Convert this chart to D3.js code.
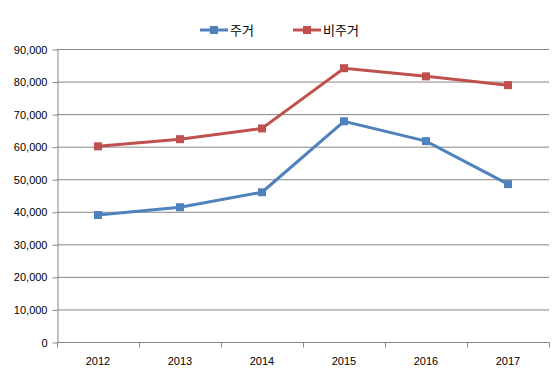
<!DOCTYPE html>
<html><head><meta charset="utf-8">
<script src="https://cdn.jsdelivr.net/npm/d3@7"></script>
<style>body{margin:0;background:#fff;} svg{display:block;font-family:"Liberation Sans","Noto Sans CJK KR",sans-serif;}</style>
</head><body>
<svg id="c" width="554" height="384"></svg>
<script>
const categories = ["2012","2013","2014","2015","2016","2017"];
const seriesNames = ["주거","비주거"];
const housing = [39000, 41400, 46000, 67800, 61700, 48500];
const nonHousing = [60100, 62300, 65600, 84100, 81600, 78900];
const yTicks = [0,10000,20000,30000,40000,50000,60000,70000,80000,90000];
const colors = ["#4F81BD","#C0504D"];

const svg = d3.select("#c");
const L=57, R=549, T=49, B=342;
const x = d3.scaleBand().domain(categories).range([L,R]);
const y = d3.scaleLinear().domain([0,90000]).range([B,T]);
const fmt = d3.format(",");

svg.append("g").selectAll("line").data(yTicks.filter(d=>d>0)).join("line")
  .attr("x1",L).attr("x2",R).attr("y1",d=>y(d)+0.5).attr("y2",d=>y(d)+0.5)
  .attr("stroke","#868686").attr("stroke-width",1);

const ya = svg.append("g").attr("transform",`translate(${L+0.5},0.5)`)
  .call(d3.axisLeft(y).tickValues(yTicks).tickFormat(fmt).tickSize(5).tickSizeOuter(0));
ya.select(".domain").attr("stroke","#868686");
ya.selectAll(".tick line").attr("stroke","#868686");
ya.selectAll("text").attr("font-size",11).attr("fill","#000").attr("dx",-2);

const xa = svg.append("g").attr("transform",`translate(0,${B+0.5})`);
xa.append("line").attr("x1",L).attr("x2",R+0.5).attr("stroke","#868686");
const bounds = categories.map(c=>x(c)).concat([R]);
xa.selectAll(".tk").data(bounds).join("line").attr("class","tk")
  .attr("x1",d=>Math.round(d)+0.5).attr("x2",d=>Math.round(d)+0.5).attr("y1",0).attr("y2",5)
  .attr("stroke","#868686");
xa.selectAll("text").data(categories).join("text")
  .attr("x",d=>x(d)+x.bandwidth()/2).attr("y",22).attr("text-anchor","middle")
  .attr("font-size",11).attr("fill","#000").text(d=>d);

const line = d3.line().x((d,i)=>x(categories[i])+x.bandwidth()/2).y(d=>y(d));
[housing, nonHousing].forEach((s,k)=>{
  svg.append("path").attr("d",line(s)).attr("fill","none").attr("stroke",colors[k]).attr("stroke-width",3);
  svg.append("g").selectAll("rect").data(s).join("rect")
    .attr("x",(d,i)=>x(categories[i])+x.bandwidth()/2-4).attr("y",d=>y(d)-4)
    .attr("width",8).attr("height",8).attr("fill",colors[k]);
});

const lg = [{x:200},{x:293}];
seriesNames.forEach((n,k)=>{
  const g = svg.append("g").attr("transform",`translate(${lg[k].x},30)`);
  g.append("line").attr("x1",0).attr("x2",28).attr("stroke",colors[k]).attr("stroke-width",3);
  g.append("rect").attr("x",10).attr("y",-4).attr("width",8).attr("height",8).attr("fill",colors[k]);
  g.append("text").attr("x",30).attr("y",5).attr("font-size",13).attr("fill","#000")
    .attr("font-family","Noto Sans CJK KR").text(n);
});
</script>
</body></html>
